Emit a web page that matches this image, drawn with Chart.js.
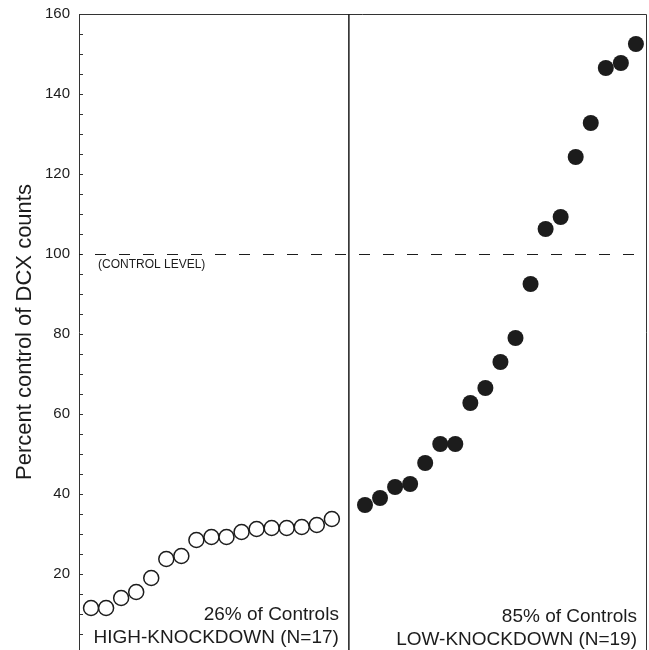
<!DOCTYPE html>
<html>
<head>
<meta charset="utf-8">
<script src="https://cdn.jsdelivr.net/npm/chart.js@4"></script>
<style>
  html, body { margin: 0; padding: 0; background: #fff; overflow: hidden; }
  #wrap { width: 649px; height: 650px; }
</style>
</head>
<body>
<div id="wrap"><canvas id="c" width="649" height="650"></canvas></div>
<script>
// ---- data ----
const highKnockdownValues = [11.5, 11.5, 14, 15.5, 19, 23.75, 24.5, 28.5, 29.25, 29.25, 30.5, 31.25, 31.5, 31.5, 31.75, 32.25, 33.75];
const lowKnockdownValues = [37.25, 39, 41.75, 42.5, 47.75, 52.5, 52.5, 62.75, 66.5, 73, 79, 92.5, 106.25, 109.25, 124.25, 132.75, 146.5, 147.75, 152.5];
const yTickLabels = [20, 40, 60, 80, 100, 120, 140, 160];
const yTickMarks = [5, 10, 15, 20, 25, 30, 35, 40, 45, 50, 55, 60, 65, 70, 75, 80, 85, 90, 95, 100, 105, 110, 115, 120, 125, 130, 135, 140, 145, 150, 155, 160];
const controlLevel = 100;
const groupLabels = ['26% of Controls', 'HIGH-KNOCKDOWN (N=17)'];
const groupLabels2 = ['85% of Controls', 'LOW-KNOCKDOWN (N=19)'];
const yTitle = 'Percent control of DCX counts';
const controlText = '(CONTROL LEVEL)';

// x slots: left group at 1..17, right group starts after a gap
const leftStart = 1, rightStart = 19.2, dividerX = 18.13;
const leftData = highKnockdownValues.map((v, i) => ({ x: leftStart + i, y: v }));
const rightData = lowKnockdownValues.map((v, i) => ({ x: rightStart + i, y: v }));

const INK = '#1c1c1c';
const FONT = '"Liberation Sans", Arial, Helvetica, sans-serif';

const decor = {
  id: 'decor',
  beforeDatasetsDraw(chart) {
    const { ctx, chartArea: a, scales: { x, y } } = chart;
    ctx.save();
    // top and right frame
    ctx.strokeStyle = '#333';
    ctx.lineWidth = 1;
    ctx.beginPath();
    ctx.moveTo(a.left, a.top + 0.5);
    ctx.lineTo(a.right + 0.5, a.top + 0.5);
    ctx.lineTo(a.right + 0.5, a.bottom + 2);
    ctx.stroke();
    // divider
    const dx = x.getPixelForValue(dividerX);
    ctx.lineWidth = 1.5;
    ctx.strokeStyle = INK;
    ctx.beginPath();
    ctx.moveTo(dx, a.top);
    ctx.lineTo(dx, a.bottom + 2);
    ctx.stroke();
    // inward ticks on y axis
    ctx.lineWidth = 1;
    ctx.strokeStyle = '#333';
    ctx.beginPath();
    yTickMarks.forEach(v => {
      const py = Math.round(y.getPixelForValue(v)) + 0.5;
      ctx.moveTo(a.left, py);
      ctx.lineTo(a.left + 4, py);
    });
    ctx.stroke();
    // control level dashed line
    const cy = Math.round(y.getPixelForValue(controlLevel)) + 0.5;
    ctx.setLineDash([11, 13]);
    ctx.lineDashOffset = 8;
    ctx.lineWidth = 1;
    ctx.strokeStyle = INK;
    ctx.beginPath();
    ctx.moveTo(a.left, cy);
    ctx.lineTo(a.right, cy);
    ctx.stroke();
    ctx.setLineDash([]);
    // texts
    ctx.fillStyle = INK;
    ctx.font = '12px ' + FONT;
    ctx.textAlign = 'left';
    ctx.textBaseline = 'alphabetic';
    ctx.fillText(controlText, a.left + 19, cy + 13);
    ctx.font = '19px ' + FONT;
    ctx.textAlign = 'right';
    ctx.fillText(groupLabels[0], dx - 10, a.bottom - 30);
    ctx.fillText(groupLabels[1], dx - 10, a.bottom - 7);
    ctx.fillText(groupLabels2[0], a.right - 9, a.bottom - 28);
    ctx.fillText(groupLabels2[1], a.right - 9, a.bottom - 5);
    ctx.restore();
  }
};

new Chart(document.getElementById('c'), {
  type: 'scatter',
  data: {
    datasets: [
      {
        data: leftData,
        pointRadius: 7.5,
        pointBorderWidth: 1.5,
        pointBorderColor: INK,
        pointBackgroundColor: '#ffffff',
        showLine: false,
        clip: false
      },
      {
        data: rightData,
        pointRadius: 8,
        pointBorderWidth: 0,
        pointBorderColor: INK,
        pointBackgroundColor: INK,
        showLine: false,
        clip: false
      }
    ]
  },
  options: {
    responsive: false,
    animation: false,
    devicePixelRatio: 1,
    events: [],
    layout: { autoPadding: false, padding: { top: 14, right: 3, bottom: 0, left: 0 } },
    plugins: { legend: { display: false }, tooltip: { enabled: false } },
    scales: {
      x: {
        type: 'linear',
        display: false,
        min: 0.2,
        max: 37.87
      },
      y: {
        type: 'linear',
        min: 1,
        max: 160,
        afterBuildTicks: s => { s.ticks = yTickLabels.map(v => ({ value: v })); },
        afterFit: s => { s.width = 79; s.paddingTop = 0; s.paddingBottom = 0; },
        grid: { display: false, drawTicks: false },
        border: { display: true, color: '#333', width: 1 },
        ticks: {
          autoSkip: false,
          padding: 9,
          color: INK,
          font: { size: 15, family: FONT }
        },
        title: {
          display: true,
          text: yTitle,
          color: INK,
          font: { size: 22, family: FONT },
          padding: { top: 12, bottom: 0 }
        }
      }
    }
  },
  plugins: [decor]
});
</script>
</body>
</html>
